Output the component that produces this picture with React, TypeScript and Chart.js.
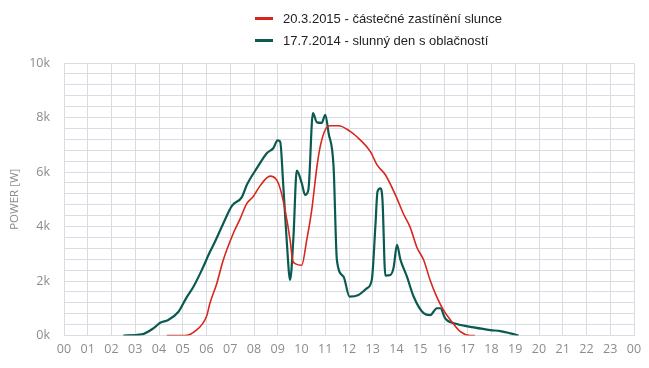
import React, { useEffect, useRef } from "react";
import { Chart, registerables } from "chart.js";

Chart.register(...registerables);

const seriesLabels = ["20.3.2015 - částečné zastínění slunce", "17.7.2014 - slunný den s oblačností"];
const seriesColors = ["#d9261c", "#0b5a50"];

const redHours = [4.33, 5.1, 5.5, 6.0, 6.15, 6.43, 6.7, 7.13, 7.4, 7.7, 7.97, 8.26, 8.68, 8.96, 9.1, 9.31, 9.52, 9.63, 9.73, 10.01, 10.22, 10.43, 10.65, 10.79, 11.0, 11.2, 11.56, 12.05, 12.47, 12.9, 13.18, 13.53, 13.95, 14.3, 14.58, 14.86, 15.14, 15.42, 15.7, 15.98, 16.27, 16.69, 17.1, 17.3];
const redPower = [0, 0, 150, 700, 1200, 1900, 2750, 3750, 4250, 4850, 5100, 5500, 5850, 5700, 5400, 4600, 3500, 2750, 2640, 2580, 3500, 4600, 6200, 6940, 7550, 7700, 7700, 7490, 7180, 6750, 6260, 5900, 5170, 4450, 3960, 3230, 2780, 2020, 1410, 930, 570, 140, 0, 0];

const tealHours = [2.5, 3.27, 3.76, 4.05, 4.39, 4.82, 5.17, 5.45, 5.8, 6.15, 6.36, 6.71, 7.07, 7.49, 7.7, 8.12, 8.54, 8.82, 8.99, 9.1, 9.24, 9.38, 9.52, 9.66, 9.8, 10.01, 10.15, 10.29, 10.48, 10.65, 10.85, 11.0, 11.14, 11.35, 11.49, 11.77, 12.02, 12.4, 12.75, 12.96, 13.11, 13.2, 13.32, 13.41, 13.53, 13.74, 13.88, 14.02, 14.16, 14.44, 14.72, 15.14, 15.42, 15.7, 15.85, 16.05, 16.55, 17.25, 17.95, 18.37, 18.79, 19.14];
const tealPower = [0, 40, 260, 470, 570, 870, 1410, 1790, 2400, 3080, 3450, 4120, 4760, 5080, 5530, 6140, 6690, 6880, 7160, 7120, 5400, 3450, 2040, 3600, 6050, 5590, 5160, 5350, 8160, 7820, 7800, 8100, 7430, 6200, 2770, 2160, 1430, 1490, 1730, 2040, 4000, 5280, 5400, 4970, 2200, 2220, 2500, 3330, 2800, 2160, 1430, 820, 750, 1000, 1000, 630, 420, 300, 200, 160, 80, 0];

const yTitle = "POWER [W]";

export default function App() {
  const ref = useRef<HTMLCanvasElement | null>(null);

  useEffect(() => {
    if (!ref.current) return;
    const font = "'Open Sans', 'DejaVu Sans', sans-serif";
    const chart = new Chart(ref.current, {
      type: "line",
      data: {
        datasets: [
          {
            label: seriesLabels[0],
            data: redHours.map((h, i) => ({ x: h, y: redPower[i] })),
            borderColor: seriesColors[0],
            backgroundColor: seriesColors[0],
            borderWidth: 1.6,
            pointRadius: 0,
            cubicInterpolationMode: "monotone",
            fill: false,
          },
          {
            label: seriesLabels[1],
            data: tealHours.map((h, i) => ({ x: h, y: tealPower[i] })),
            borderColor: seriesColors[1],
            backgroundColor: seriesColors[1],
            borderWidth: 2.2,
            pointRadius: 0,
            cubicInterpolationMode: "monotone",
            fill: false,
          },
        ],
      },
      options: {
        animation: false,
        responsive: false,
        maintainAspectRatio: false,
        layout: { padding: { top: 63, right: 15, left: 8, bottom: 0 } },
        plugins: { legend: { display: false }, tooltip: { enabled: false } },
        scales: {
          x: {
            type: "linear",
            min: 0,
            max: 24,
            afterFit: (s: any) => { s.height = 32.5; },
            ticks: {
              stepSize: 1,
              autoSkip: false,
              maxRotation: 0,
              padding: 6,
              color: "#8c8c8c",
              font: { family: font, size: 12.5 },
              callback: (v: any) => {
                const n = Number(v) % 24;
                return n < 10 ? "0" + n : String(n);
              },
            },
            grid: { color: "#d9dde3", lineWidth: 1, drawTicks: false },
            border: { color: "#d9dde3" },
          },
          y: {
            min: 0,
            max: 10000,
            afterFit: (s: any) => { s.width = 56; },
            title: {
              display: true,
              text: yTitle,
              color: "#8c8c8c",
              font: { family: font, size: 11.5 },
              padding: { top: 0, bottom: 4 },
            },
            ticks: {
              stepSize: 400,
              autoSkip: false,
              padding: 14,
              color: "#8c8c8c",
              font: { family: font, size: 12.5 },
              callback: (v: any) => (Number(v) % 2000 === 0 ? Number(v) / 1000 + "k" : ""),
            },
            grid: { color: "#d9dde3", lineWidth: 1, drawTicks: false },
            border: { color: "#d9dde3" },
          },
        },
      },
    });
    return () => chart.destroy();
  }, []);

  return (
    <div style={{ position: "fixed", left: 0, top: 0, width: 649, height: 368, background: "#fff" }}>
      <canvas ref={ref} width={649} height={368} style={{ position: "absolute", left: 0, top: 0 }} />
      {seriesLabels.map((l, i) => (
        <div
          key={l}
          style={{
            position: "absolute",
            left: 255,
            top: 9 + i * 22,
            height: 18,
            display: "flex",
            alignItems: "center",
            fontFamily: "'Liberation Sans', Arial, sans-serif",
            fontSize: 13,
            color: "#222",
            whiteSpace: "nowrap",
          }}
        >
          <span style={{ display: "inline-block", width: 18, height: 3, background: seriesColors[i], marginRight: 10 }} />
          {l}
        </div>
      ))}
    </div>
  );
}
